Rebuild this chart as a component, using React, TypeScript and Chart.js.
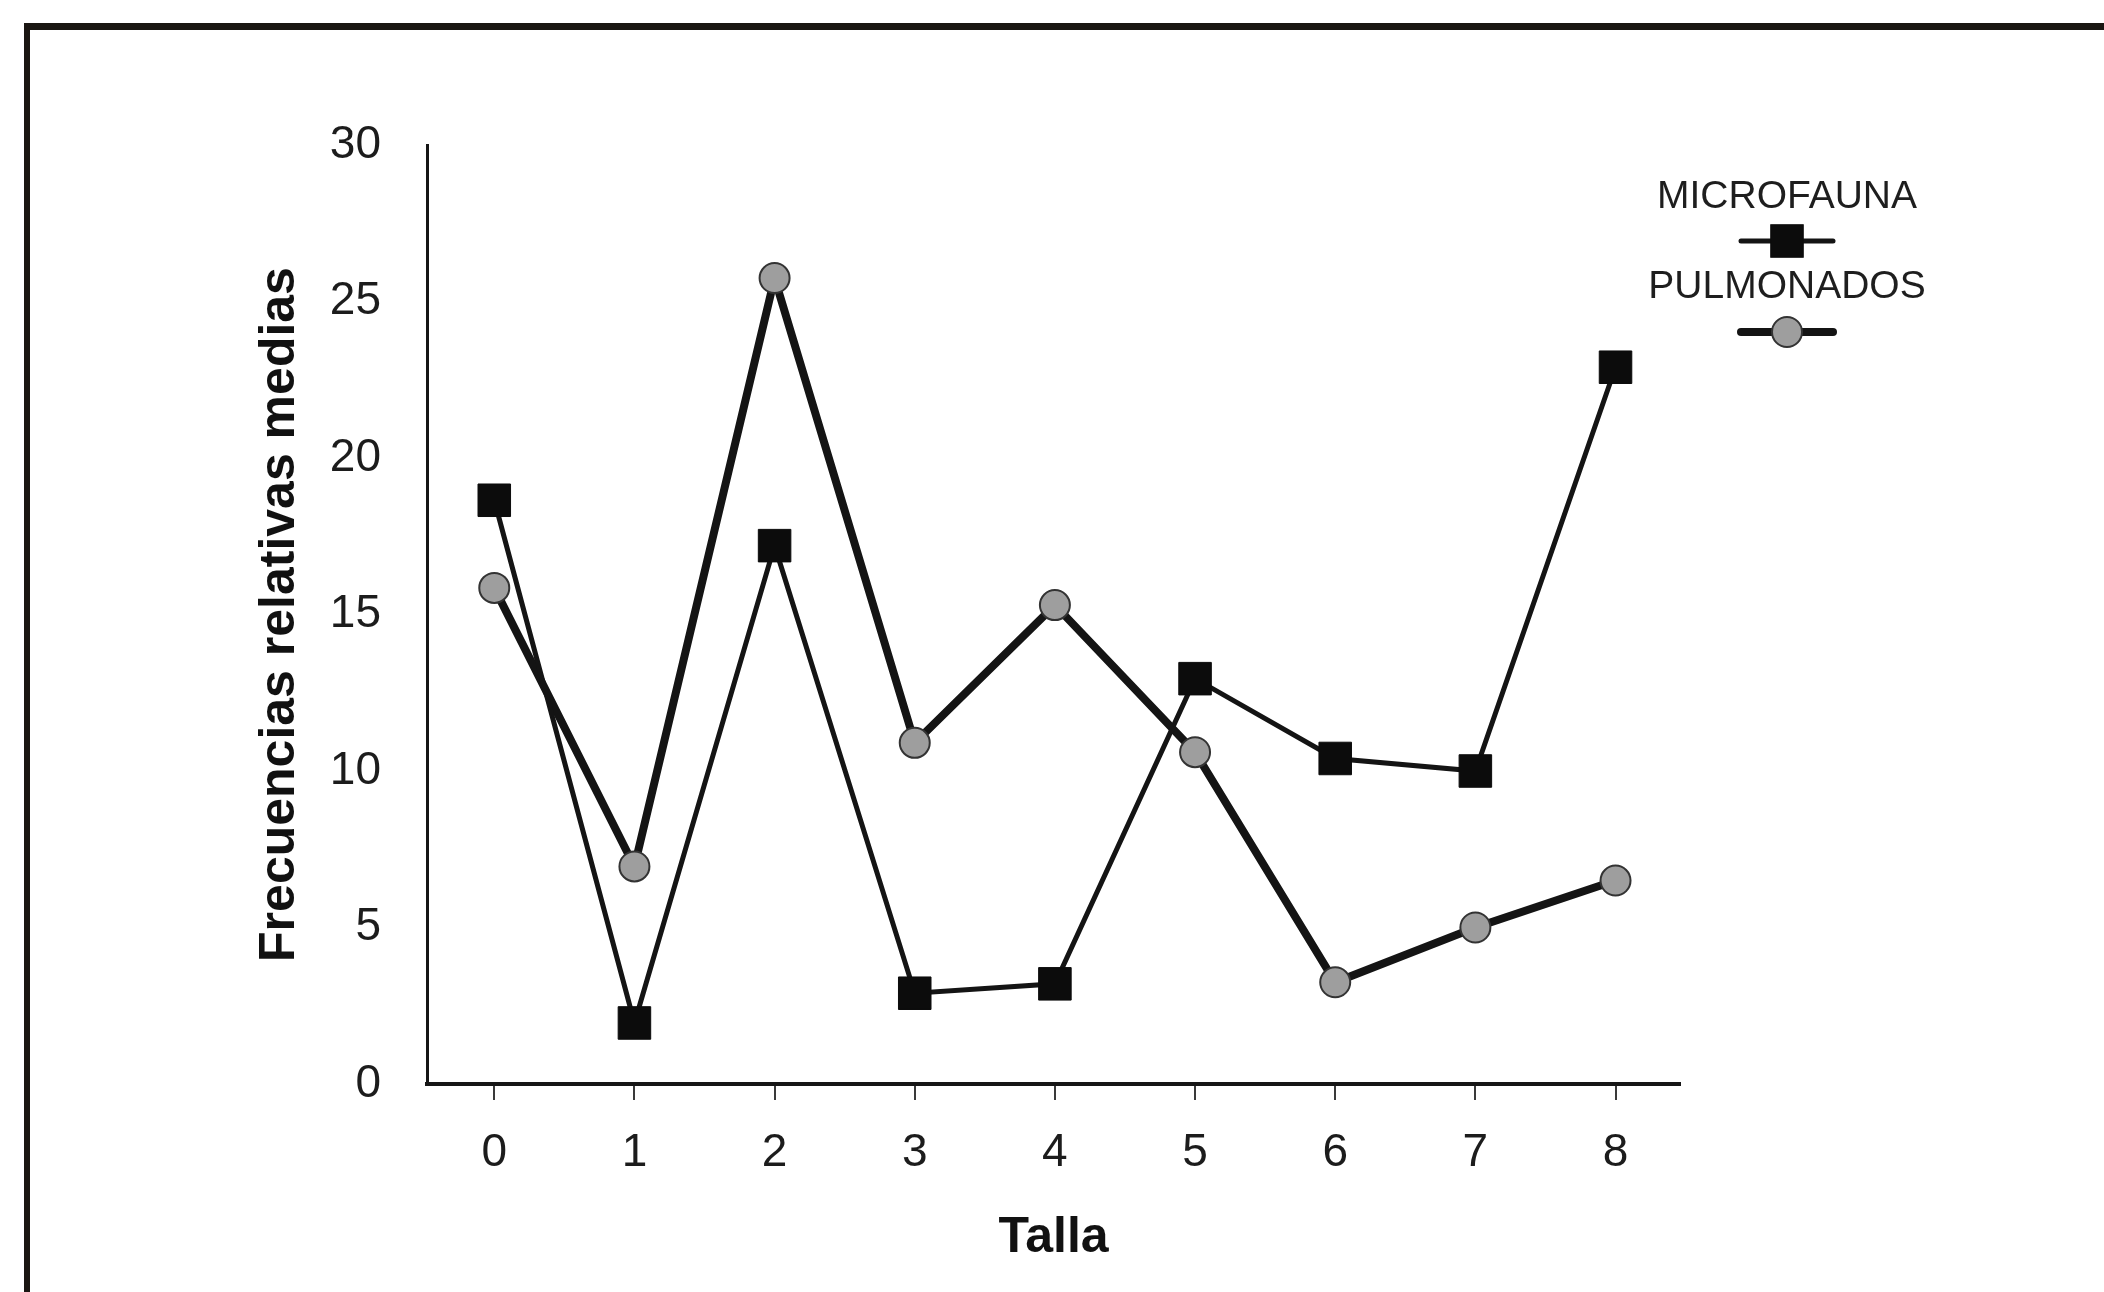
import React, { useEffect, useRef } from "react";
import { Chart, registerables } from "chart.js";

Chart.register(...registerables);

// ---- Data ----
const TALLAS = [0, 1, 2, 3, 4, 5, 6, 7, 8];
const MICROFAUNA = [18.65, 1.95, 17.2, 2.9, 3.2, 12.95, 10.4, 10.0, 22.9];
const PULMONADOS = [15.85, 6.95, 25.75, 10.9, 15.3, 10.6, 3.25, 5.0, 6.5];
const SERIES_LABELS = ["MICROFAUNA", "PULMONADOS"];
const Y_TICKS = [0, 5, 10, 15, 20, 25, 30];
const X_TITLE = "Talla";
const Y_TITLE = "Frecuencias relativas medias";

const FONT = "'Liberation Sans', Arial, Helvetica, sans-serif";
const W = 2104;
const H = 1292;

const stackedLegend = {
  id: "stackedLegend",
  afterDraw(chart: any) {
    const ctx = chart.ctx;
    const cx = 1787;
    const rows = [
      { textY: 197, markY: 241 },
      { textY: 287, markY: 332 },
    ];
    chart.data.datasets.forEach((ds: any, i: number) => {
      const r = rows[i];
      if (!r) return;
      ctx.save();
      ctx.fillStyle = "#1e1e1e";
      ctx.font = `39px ${FONT}`;
      ctx.textAlign = "center";
      ctx.textBaseline = "middle";
      ctx.fillText(ds.label, cx, r.textY);
      // line
      ctx.strokeStyle = ds.borderColor;
      ctx.lineWidth = ds.borderWidth;
      ctx.lineCap = "round";
      ctx.beginPath();
      ctx.moveTo(cx - 46, r.markY);
      ctx.lineTo(cx + 46, r.markY);
      ctx.stroke();
      // marker
      ctx.fillStyle = ds.pointBackgroundColor;
      ctx.strokeStyle = ds.pointBorderColor;
      ctx.lineWidth = ds.pointBorderWidth;
      if (ds.pointStyle === "rect") {
        const s = ds.pointRadius * Math.SQRT1_2;
        ctx.fillRect(cx - s, r.markY - s, 2 * s, 2 * s);
        ctx.strokeRect(cx - s, r.markY - s, 2 * s, 2 * s);
      } else {
        ctx.beginPath();
        ctx.arc(cx, r.markY, ds.pointRadius, 0, Math.PI * 2);
        ctx.fill();
        ctx.stroke();
      }
      ctx.restore();
    });
  },
};

export default function App() {
  const canvasRef = useRef<HTMLCanvasElement | null>(null);

  useEffect(() => {
    const canvas = canvasRef.current;
    if (!canvas) return;
    const chart = new Chart(canvas, {
      type: "line",
      data: {
        datasets: [
          {
            label: SERIES_LABELS[0],
            data: TALLAS.map((x, i) => ({ x, y: MICROFAUNA[i] })),
            borderColor: "#141414",
            borderWidth: 5,
            pointStyle: "rect",
            pointRadius: 23,
            pointHoverRadius: 23,
            pointBackgroundColor: "#0c0c0c",
            pointBorderColor: "#0c0c0c",
            pointBorderWidth: 1,
            tension: 0,
            fill: false,
          },
          {
            label: SERIES_LABELS[1],
            data: TALLAS.map((x, i) => ({ x, y: PULMONADOS[i] })),
            borderColor: "#141414",
            borderWidth: 8,
            pointStyle: "circle",
            pointRadius: 15,
            pointHoverRadius: 15,
            pointBackgroundColor: "#9e9e9e",
            pointBorderColor: "#333333",
            pointBorderWidth: 2,
            tension: 0,
            fill: false,
          },
        ],
      } as any,
      options: {
        responsive: false,
        animation: false,
        devicePixelRatio: 1,
        events: [],
        layout: { padding: { top: 145, right: 424, bottom: 0, left: 0 } },
        plugins: {
          legend: { display: false },
          tooltip: { enabled: false },
        },
        scales: {
          x: {
            type: "linear",
            min: -0.48,
            max: 8.46,
            afterBuildTicks: (s: any) => {
              s.ticks = TALLAS.map((v) => ({ value: v }));
            },
            afterFit: (s: any) => {
              s.height = H - 1084;
            },
            grid: {
              display: true,
              drawOnChartArea: false,
              drawTicks: true,
              tickLength: 16,
              color: "#3a3a3a",
              lineWidth: 2,
            },
            border: { display: true, color: "#161616", width: 4 },
            ticks: {
              padding: 26,
              color: "#1c1c1c",
              font: { family: FONT, size: 46 },
              callback: (v: any) => String(v),
            },
            title: {
              display: true,
              text: X_TITLE,
              color: "#111",
              font: { family: FONT, size: 50, weight: "bold" },
              padding: { top: 0, bottom: 24 },
            },
          },
          y: {
            type: "linear",
            min: 0,
            max: 30,
            afterBuildTicks: (s: any) => {
              s.ticks = Y_TICKS.map((v) => ({ value: v }));
            },
            afterFit: (s: any) => {
              s.width = 427;
            },
            grid: { display: false },
            border: { display: true, color: "#161616", width: 3 },
            ticks: {
              padding: 38,
              color: "#1c1c1c",
              font: { family: FONT, size: 46 },
              callback: (v: any) => String(v),
            },
            title: {
              display: true,
              text: Y_TITLE,
              color: "#111",
              font: { family: FONT, size: 50, weight: "bold" },
              padding: { top: 250, bottom: 0 },
            },
          },
        },
      } as any,
      plugins: [stackedLegend],
    });
    return () => chart.destroy();
  }, []);

  return (
    <div
      style={{
        position: "fixed",
        left: 0,
        top: 0,
        width: W,
        height: H,
        overflow: "hidden",
        background: "#fff",
      }}
    >
      <div
        style={{
          position: "absolute",
          left: 24,
          top: 23,
          width: W + 200,
          height: H + 200,
          borderTop: "7px solid #1a1612",
          borderLeft: "6px solid #1a1612",
        }}
      />
      <canvas
        ref={canvasRef}
        width={W}
        height={H}
        style={{ position: "absolute", left: 0, top: 0, width: W, height: H, display: "block" }}
      />
    </div>
  );
}
